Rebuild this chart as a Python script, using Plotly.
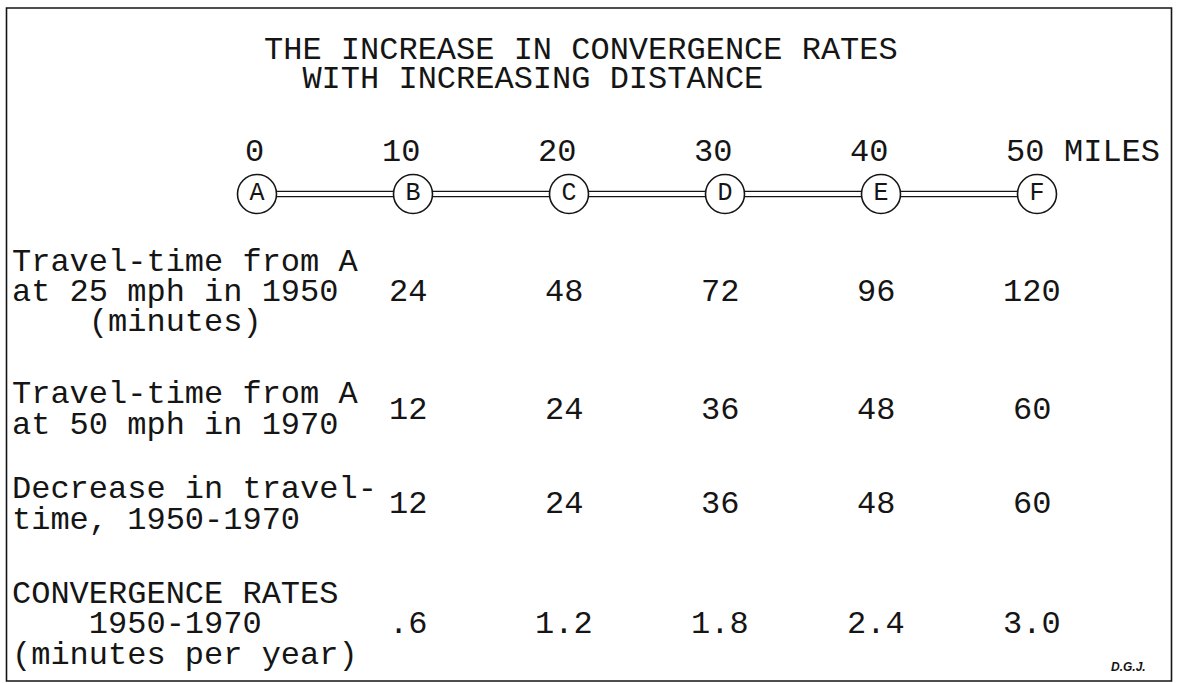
import plotly.graph_objects as go

# ---------------- data ----------------
miles = [0, 10, 20, 30, 40, 50]
stations = ["A", "B", "C", "D", "E", "F"]
mile_labels = ["0", "10", "20", "30", "40", "50"]
unit_label = "MILES"

time_1950 = [24, 48, 72, 96, 120]      # minutes, stations B..F
time_1970 = [12, 24, 36, 48, 60]       # minutes, stations B..F
decrease = [12, 24, 36, 48, 60]        # minutes, stations B..F
rates = [0.6, 1.2, 1.8, 2.4, 3.0]      # minutes per year, stations B..F

title_lines = ["THE INCREASE IN CONVERGENCE RATES", "  WITH INCREASING DISTANCE"]
row_labels = [
    ["Travel-time from A", "at 25 mph in 1950", "    (minutes)"],
    ["Travel-time from A", "at 50 mph in 1970"],
    ["Decrease in travel-", "time, 1950-1970"],
    ["CONVERGENCE RATES", "    1950-1970", "(minutes per year)"],
]
signature = "D.G.J."

# ---------------- layout constants ----------------
W, H = 1181, 683
X0_PX, PX_PER_MILE = 257, 15.6
x_range = [-X0_PX / PX_PER_MILE, (W - X0_PX) / PX_PER_MILE]
FONT = "Courier New, Liberation Mono, monospace"
FS = 32
INK = "#151515"

TITLE_Y = [50, 79]
MILE_Y = 152
LINE_Y = 194
ROW_LINE_Y = [[262, 292, 322], [394, 425], [489, 520], [594, 624, 655]]
ROW_VAL_Y = [292, 410, 504, 624]
LABEL_X = 10 / W


def fmt_rate(v):
    s = f"{v:.1f}"
    return s[1:] if s.startswith("0") else s


row_values = [
    [str(v) for v in time_1950],
    [str(v) for v in time_1970],
    [str(v) for v in decrease],
    [fmt_rate(v) for v in rates],
]

nb = lambda s: s.replace(" ", "\u00a0")

fig = go.Figure()

# double-line road
for dy in (-2.7, 2.7):
    fig.add_trace(go.Scatter(
        x=miles, y=[LINE_Y + dy] * len(miles), mode="lines",
        line=dict(color=INK, width=1.3), hoverinfo="skip", showlegend=False))

# station circles
fig.add_trace(go.Scatter(
    x=miles, y=[LINE_Y] * len(miles), mode="markers+text",
    marker=dict(size=39, color="white", line=dict(color=INK, width=1.6)),
    text=stations, textposition="middle center",
    textfont=dict(family=FONT, size=25, color=INK),
    hoverinfo="skip", showlegend=False))

ann = []
# title
for t, y in zip(title_lines, TITLE_Y):
    ann.append(dict(x=262 / W, xref="paper", y=y, yref="y", text=nb(t),
                    xanchor="left", yanchor="middle", showarrow=False,
                    font=dict(family=FONT, size=FS, color=INK)))
# mile labels
for m, lab in zip(miles, mile_labels):
    ann.append(dict(x=m + 0.6, y=MILE_Y, text=lab, xanchor="right", yanchor="middle",
                    showarrow=False, font=dict(family=FONT, size=FS, color=INK)))
ann.append(dict(x=miles[-1] + 1.6, y=MILE_Y, text=unit_label, xanchor="left",
                yanchor="middle", showarrow=False,
                font=dict(family=FONT, size=FS, color=INK)))

# row labels
for lines, ys in zip(row_labels, ROW_LINE_Y):
    for t, y in zip(lines, ys):
        ann.append(dict(x=LABEL_X, xref="paper", y=y, text=nb(t), xanchor="left",
                        yanchor="middle", showarrow=False,
                        font=dict(family=FONT, size=FS, color=INK)))

# values
for vals, y in zip(row_values, ROW_VAL_Y):
    for m, v in zip(miles[1:], vals):
        ann.append(dict(x=m - 0.3, y=y, text=v, xanchor="center", yanchor="middle",
                        showarrow=False, font=dict(family=FONT, size=FS, color=INK)))

# signature
ann.append(dict(x=1128 / W, xref="paper", y=667, text=f"<b><i>{signature}</i></b>",
                xanchor="center", yanchor="middle", showarrow=False,
                font=dict(family="Liberation Sans, Arial, sans-serif", size=12, color=INK)))

fig.update_layout(
    width=W, height=H, margin=dict(l=0, r=0, t=0, b=0),
    paper_bgcolor="white", plot_bgcolor="white",
    xaxis=dict(range=x_range, visible=False, fixedrange=True),
    yaxis=dict(range=[H, 0], visible=False, fixedrange=True),
    annotations=ann,
    shapes=[dict(type="rect", xref="paper", yref="y", x0=6.5 / W, x1=1171.5 / W,
                 y0=8, y1=681, line=dict(color=INK, width=1.6))],
)

fig.write_html("out.html", config={"displayModeBar": False},
               post_script="document.body.style.margin='0';document.body.style.padding='0';")
